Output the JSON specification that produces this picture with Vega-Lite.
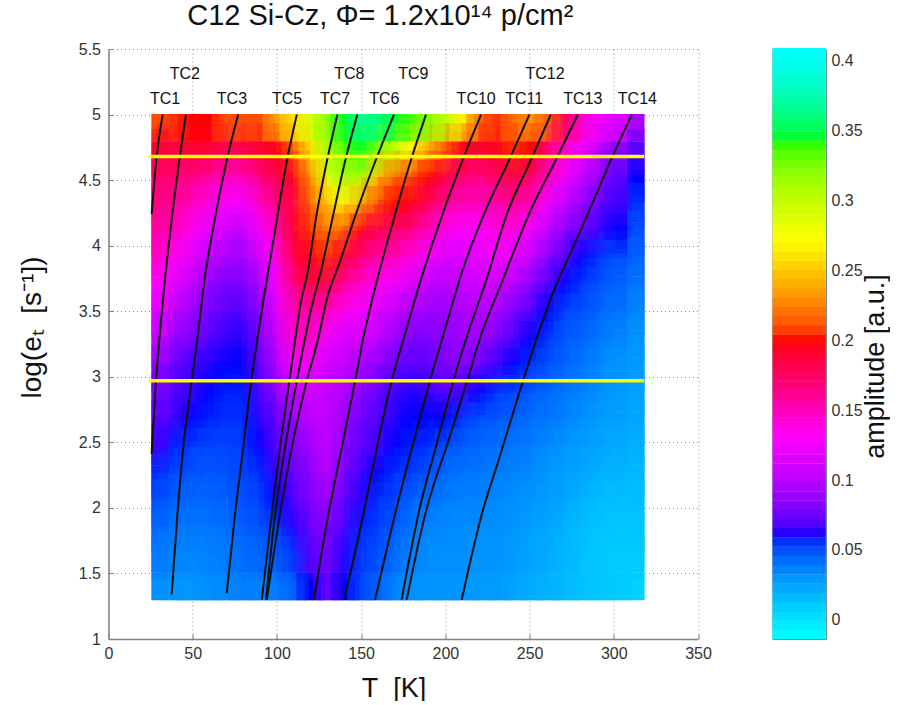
{"$schema":"https://vega.github.io/schema/vega-lite/v6.json","background":"white","padding":{"left":18.5,"top":2,"right":0,"bottom":0},"bounds":"flush","spacing":74,
"config":{"view":{"stroke":null},"font":"Liberation Sans","axis":{"labelFont":"Liberation Sans","titleFont":"Liberation Sans","titleFontWeight":"normal","labelColor":"#333333","titleColor":"#111111","labelFlush":false}},
"datasets":{"heat":[
{"T":30.6,"e":4.9,"a":0.21},{"T":40.7,"e":4.9,"a":0.205},{"T":50.8,"e":4.9,"a":0.2},{"T":60.9,"e":4.9,"a":0.2},{"T":71,"e":4.9,"a":0.21},{"T":81.1,"e":4.9,"a":0.21},{"T":91.1,"e":4.9,"a":0.21},{"T":101.2,"e":4.9,"a":0.235},{"T":111.3,"e":4.9,"a":0.26},{"T":121.4,"e":4.9,"a":0.29},{"T":131.5,"e":4.9,"a":0.32},{"T":141.6,"e":4.9,"a":0.345},{"T":151.7,"e":4.9,"a":0.365},{"T":161.8,"e":4.9,"a":0.36},{"T":171.9,"e":4.9,"a":0.345},{"T":181.9,"e":4.9,"a":0.335},{"T":192,"e":4.9,"a":0.32},{"T":202.1,"e":4.9,"a":0.3},{"T":212.2,"e":4.9,"a":0.265},{"T":222.3,"e":4.9,"a":0.215},{"T":232.4,"e":4.9,"a":0.205},{"T":242.5,"e":4.9,"a":0.22},{"T":252.6,"e":4.9,"a":0.23},{"T":262.7,"e":4.9,"a":0.215},{"T":272.8,"e":4.9,"a":0.18},{"T":282.8,"e":4.9,"a":0.145},{"T":292.9,"e":4.9,"a":0.125},{"T":303,"e":4.9,"a":0.115},{"T":313.1,"e":4.9,"a":0.095},
{"T":30.6,"e":4.69,"a":0.19},{"T":40.7,"e":4.69,"a":0.185},{"T":50.8,"e":4.69,"a":0.19},{"T":60.9,"e":4.69,"a":0.19},{"T":71,"e":4.69,"a":0.18},{"T":81.1,"e":4.69,"a":0.18},{"T":91.1,"e":4.69,"a":0.19},{"T":101.2,"e":4.69,"a":0.195},{"T":111.3,"e":4.69,"a":0.215},{"T":121.4,"e":4.69,"a":0.26},{"T":131.5,"e":4.69,"a":0.31},{"T":141.6,"e":4.69,"a":0.335},{"T":151.7,"e":4.69,"a":0.345},{"T":161.8,"e":4.69,"a":0.325},{"T":171.9,"e":4.69,"a":0.3},{"T":181.9,"e":4.69,"a":0.27},{"T":192,"e":4.69,"a":0.24},{"T":202.1,"e":4.69,"a":0.215},{"T":212.2,"e":4.69,"a":0.195},{"T":222.3,"e":4.69,"a":0.19},{"T":232.4,"e":4.69,"a":0.195},{"T":242.5,"e":4.69,"a":0.205},{"T":252.6,"e":4.69,"a":0.2},{"T":262.7,"e":4.69,"a":0.17},{"T":272.8,"e":4.69,"a":0.145},{"T":282.8,"e":4.69,"a":0.125},{"T":292.9,"e":4.69,"a":0.105},{"T":303,"e":4.69,"a":0.085},{"T":313.1,"e":4.69,"a":0.07},
{"T":30.6,"e":4.48,"a":0.17},{"T":40.7,"e":4.48,"a":0.17},{"T":50.8,"e":4.48,"a":0.165},{"T":60.9,"e":4.48,"a":0.16},{"T":71,"e":4.48,"a":0.15},{"T":81.1,"e":4.48,"a":0.15},{"T":91.1,"e":4.48,"a":0.165},{"T":101.2,"e":4.48,"a":0.18},{"T":111.3,"e":4.48,"a":0.195},{"T":121.4,"e":4.48,"a":0.23},{"T":131.5,"e":4.48,"a":0.285},{"T":141.6,"e":4.48,"a":0.31},{"T":151.7,"e":4.48,"a":0.305},{"T":161.8,"e":4.48,"a":0.25},{"T":171.9,"e":4.48,"a":0.22},{"T":181.9,"e":4.48,"a":0.21},{"T":192,"e":4.48,"a":0.2},{"T":202.1,"e":4.48,"a":0.185},{"T":212.2,"e":4.48,"a":0.17},{"T":222.3,"e":4.48,"a":0.165},{"T":232.4,"e":4.48,"a":0.175},{"T":242.5,"e":4.48,"a":0.185},{"T":252.6,"e":4.48,"a":0.175},{"T":262.7,"e":4.48,"a":0.15},{"T":272.8,"e":4.48,"a":0.125},{"T":282.8,"e":4.48,"a":0.105},{"T":292.9,"e":4.48,"a":0.09},{"T":303,"e":4.48,"a":0.07},{"T":313.1,"e":4.48,"a":0.06},
{"T":30.6,"e":4.28,"a":0.165},{"T":40.7,"e":4.28,"a":0.16},{"T":50.8,"e":4.28,"a":0.15},{"T":60.9,"e":4.28,"a":0.14},{"T":71,"e":4.28,"a":0.13},{"T":81.1,"e":4.28,"a":0.125},{"T":91.1,"e":4.28,"a":0.145},{"T":101.2,"e":4.28,"a":0.165},{"T":111.3,"e":4.28,"a":0.185},{"T":121.4,"e":4.28,"a":0.215},{"T":131.5,"e":4.28,"a":0.25},{"T":141.6,"e":4.28,"a":0.27},{"T":151.7,"e":4.28,"a":0.24},{"T":161.8,"e":4.28,"a":0.21},{"T":171.9,"e":4.28,"a":0.2},{"T":181.9,"e":4.28,"a":0.195},{"T":192,"e":4.28,"a":0.175},{"T":202.1,"e":4.28,"a":0.16},{"T":212.2,"e":4.28,"a":0.15},{"T":222.3,"e":4.28,"a":0.15},{"T":232.4,"e":4.28,"a":0.155},{"T":242.5,"e":4.28,"a":0.16},{"T":252.6,"e":4.28,"a":0.15},{"T":262.7,"e":4.28,"a":0.125},{"T":272.8,"e":4.28,"a":0.105},{"T":282.8,"e":4.28,"a":0.09},{"T":292.9,"e":4.28,"a":0.075},{"T":303,"e":4.28,"a":0.065},{"T":313.1,"e":4.28,"a":0.055},
{"T":30.6,"e":4.07,"a":0.155},{"T":40.7,"e":4.07,"a":0.15},{"T":50.8,"e":4.07,"a":0.135},{"T":60.9,"e":4.07,"a":0.12},{"T":71,"e":4.07,"a":0.11},{"T":81.1,"e":4.07,"a":0.105},{"T":91.1,"e":4.07,"a":0.125},{"T":101.2,"e":4.07,"a":0.15},{"T":111.3,"e":4.07,"a":0.19},{"T":121.4,"e":4.07,"a":0.205},{"T":131.5,"e":4.07,"a":0.225},{"T":141.6,"e":4.07,"a":0.215},{"T":151.7,"e":4.07,"a":0.195},{"T":161.8,"e":4.07,"a":0.18},{"T":171.9,"e":4.07,"a":0.175},{"T":181.9,"e":4.07,"a":0.165},{"T":192,"e":4.07,"a":0.15},{"T":202.1,"e":4.07,"a":0.135},{"T":212.2,"e":4.07,"a":0.13},{"T":222.3,"e":4.07,"a":0.13},{"T":232.4,"e":4.07,"a":0.14},{"T":242.5,"e":4.07,"a":0.14},{"T":252.6,"e":4.07,"a":0.125},{"T":262.7,"e":4.07,"a":0.105},{"T":272.8,"e":4.07,"a":0.085},{"T":282.8,"e":4.07,"a":0.075},{"T":292.9,"e":4.07,"a":0.065},{"T":303,"e":4.07,"a":0.06},{"T":313.1,"e":4.07,"a":0.05},
{"T":30.6,"e":3.87,"a":0.145},{"T":40.7,"e":3.87,"a":0.135},{"T":50.8,"e":3.87,"a":0.12},{"T":60.9,"e":3.87,"a":0.105},{"T":71,"e":3.87,"a":0.095},{"T":81.1,"e":3.87,"a":0.09},{"T":91.1,"e":3.87,"a":0.11},{"T":101.2,"e":3.87,"a":0.135},{"T":111.3,"e":3.87,"a":0.18},{"T":121.4,"e":3.87,"a":0.195},{"T":131.5,"e":3.87,"a":0.205},{"T":141.6,"e":3.87,"a":0.19},{"T":151.7,"e":3.87,"a":0.17},{"T":161.8,"e":3.87,"a":0.155},{"T":171.9,"e":3.87,"a":0.15},{"T":181.9,"e":3.87,"a":0.14},{"T":192,"e":3.87,"a":0.125},{"T":202.1,"e":3.87,"a":0.115},{"T":212.2,"e":3.87,"a":0.115},{"T":222.3,"e":3.87,"a":0.12},{"T":232.4,"e":3.87,"a":0.125},{"T":242.5,"e":3.87,"a":0.12},{"T":252.6,"e":3.87,"a":0.105},{"T":262.7,"e":3.87,"a":0.085},{"T":272.8,"e":3.87,"a":0.07},{"T":282.8,"e":3.87,"a":0.06},{"T":292.9,"e":3.87,"a":0.055},{"T":303,"e":3.87,"a":0.05},{"T":313.1,"e":3.87,"a":0.045},
{"T":30.6,"e":3.66,"a":0.13},{"T":40.7,"e":3.66,"a":0.12},{"T":50.8,"e":3.66,"a":0.105},{"T":60.9,"e":3.66,"a":0.09},{"T":71,"e":3.66,"a":0.08},{"T":81.1,"e":3.66,"a":0.08},{"T":91.1,"e":3.66,"a":0.095},{"T":101.2,"e":3.66,"a":0.125},{"T":111.3,"e":3.66,"a":0.165},{"T":121.4,"e":3.66,"a":0.185},{"T":131.5,"e":3.66,"a":0.18},{"T":141.6,"e":3.66,"a":0.16},{"T":151.7,"e":3.66,"a":0.145},{"T":161.8,"e":3.66,"a":0.135},{"T":171.9,"e":3.66,"a":0.125},{"T":181.9,"e":3.66,"a":0.115},{"T":192,"e":3.66,"a":0.105},{"T":202.1,"e":3.66,"a":0.1},{"T":212.2,"e":3.66,"a":0.105},{"T":222.3,"e":3.66,"a":0.11},{"T":232.4,"e":3.66,"a":0.11},{"T":242.5,"e":3.66,"a":0.1},{"T":252.6,"e":3.66,"a":0.085},{"T":262.7,"e":3.66,"a":0.07},{"T":272.8,"e":3.66,"a":0.06},{"T":282.8,"e":3.66,"a":0.055},{"T":292.9,"e":3.66,"a":0.05},{"T":303,"e":3.66,"a":0.045},{"T":313.1,"e":3.66,"a":0.04},
{"T":30.6,"e":3.46,"a":0.115},{"T":40.7,"e":3.46,"a":0.105},{"T":50.8,"e":3.46,"a":0.09},{"T":60.9,"e":3.46,"a":0.08},{"T":71,"e":3.46,"a":0.07},{"T":81.1,"e":3.46,"a":0.068},{"T":91.1,"e":3.46,"a":0.085},{"T":101.2,"e":3.46,"a":0.115},{"T":111.3,"e":3.46,"a":0.15},{"T":121.4,"e":3.46,"a":0.155},{"T":131.5,"e":3.46,"a":0.15},{"T":141.6,"e":3.46,"a":0.135},{"T":151.7,"e":3.46,"a":0.125},{"T":161.8,"e":3.46,"a":0.115},{"T":171.9,"e":3.46,"a":0.105},{"T":181.9,"e":3.46,"a":0.095},{"T":192,"e":3.46,"a":0.09},{"T":202.1,"e":3.46,"a":0.09},{"T":212.2,"e":3.46,"a":0.095},{"T":222.3,"e":3.46,"a":0.1},{"T":232.4,"e":3.46,"a":0.095},{"T":242.5,"e":3.46,"a":0.08},{"T":252.6,"e":3.46,"a":0.07},{"T":262.7,"e":3.46,"a":0.06},{"T":272.8,"e":3.46,"a":0.052},{"T":282.8,"e":3.46,"a":0.05},{"T":292.9,"e":3.46,"a":0.045},{"T":303,"e":3.46,"a":0.04},{"T":313.1,"e":3.46,"a":0.035},
{"T":30.6,"e":3.25,"a":0.105},{"T":40.7,"e":3.25,"a":0.09},{"T":50.8,"e":3.25,"a":0.08},{"T":60.9,"e":3.25,"a":0.07},{"T":71,"e":3.25,"a":0.065},{"T":81.1,"e":3.25,"a":0.062},{"T":91.1,"e":3.25,"a":0.078},{"T":101.2,"e":3.25,"a":0.105},{"T":111.3,"e":3.25,"a":0.145},{"T":121.4,"e":3.25,"a":0.15},{"T":131.5,"e":3.25,"a":0.125},{"T":141.6,"e":3.25,"a":0.115},{"T":151.7,"e":3.25,"a":0.11},{"T":161.8,"e":3.25,"a":0.105},{"T":171.9,"e":3.25,"a":0.09},{"T":181.9,"e":3.25,"a":0.08},{"T":192,"e":3.25,"a":0.08},{"T":202.1,"e":3.25,"a":0.085},{"T":212.2,"e":3.25,"a":0.09},{"T":222.3,"e":3.25,"a":0.09},{"T":232.4,"e":3.25,"a":0.08},{"T":242.5,"e":3.25,"a":0.068},{"T":252.6,"e":3.25,"a":0.06},{"T":262.7,"e":3.25,"a":0.055},{"T":272.8,"e":3.25,"a":0.048},{"T":282.8,"e":3.25,"a":0.045},{"T":292.9,"e":3.25,"a":0.04},{"T":303,"e":3.25,"a":0.035},{"T":313.1,"e":3.25,"a":0.03},
{"T":30.6,"e":3.04,"a":0.085},{"T":40.7,"e":3.04,"a":0.075},{"T":50.8,"e":3.04,"a":0.066},{"T":60.9,"e":3.04,"a":0.062},{"T":71,"e":3.04,"a":0.06},{"T":81.1,"e":3.04,"a":0.06},{"T":91.1,"e":3.04,"a":0.07},{"T":101.2,"e":3.04,"a":0.095},{"T":111.3,"e":3.04,"a":0.125},{"T":121.4,"e":3.04,"a":0.125},{"T":131.5,"e":3.04,"a":0.11},{"T":141.6,"e":3.04,"a":0.105},{"T":151.7,"e":3.04,"a":0.095},{"T":161.8,"e":3.04,"a":0.085},{"T":171.9,"e":3.04,"a":0.075},{"T":181.9,"e":3.04,"a":0.07},{"T":192,"e":3.04,"a":0.072},{"T":202.1,"e":3.04,"a":0.08},{"T":212.2,"e":3.04,"a":0.085},{"T":222.3,"e":3.04,"a":0.075},{"T":232.4,"e":3.04,"a":0.065},{"T":242.5,"e":3.04,"a":0.06},{"T":252.6,"e":3.04,"a":0.055},{"T":262.7,"e":3.04,"a":0.05},{"T":272.8,"e":3.04,"a":0.045},{"T":282.8,"e":3.04,"a":0.04},{"T":292.9,"e":3.04,"a":0.035},{"T":303,"e":3.04,"a":0.03},{"T":313.1,"e":3.04,"a":0.028},
{"T":30.6,"e":2.84,"a":0.078},{"T":40.7,"e":2.84,"a":0.07},{"T":50.8,"e":2.84,"a":0.064},{"T":60.9,"e":2.84,"a":0.06},{"T":71,"e":2.84,"a":0.058},{"T":81.1,"e":2.84,"a":0.058},{"T":91.1,"e":2.84,"a":0.068},{"T":101.2,"e":2.84,"a":0.084},{"T":111.3,"e":2.84,"a":0.105},{"T":121.4,"e":2.84,"a":0.11},{"T":131.5,"e":2.84,"a":0.105},{"T":141.6,"e":2.84,"a":0.098},{"T":151.7,"e":2.84,"a":0.085},{"T":161.8,"e":2.84,"a":0.074},{"T":171.9,"e":2.84,"a":0.066},{"T":181.9,"e":2.84,"a":0.062},{"T":192,"e":2.84,"a":0.065},{"T":202.1,"e":2.84,"a":0.07},{"T":212.2,"e":2.84,"a":0.065},{"T":222.3,"e":2.84,"a":0.06},{"T":232.4,"e":2.84,"a":0.055},{"T":242.5,"e":2.84,"a":0.052},{"T":252.6,"e":2.84,"a":0.048},{"T":262.7,"e":2.84,"a":0.044},{"T":272.8,"e":2.84,"a":0.04},{"T":282.8,"e":2.84,"a":0.036},{"T":292.9,"e":2.84,"a":0.032},{"T":303,"e":2.84,"a":0.028},{"T":313.1,"e":2.84,"a":0.025},
{"T":30.6,"e":2.63,"a":0.07},{"T":40.7,"e":2.63,"a":0.066},{"T":50.8,"e":2.63,"a":0.06},{"T":60.9,"e":2.63,"a":0.058},{"T":71,"e":2.63,"a":0.056},{"T":81.1,"e":2.63,"a":0.056},{"T":91.1,"e":2.63,"a":0.062},{"T":101.2,"e":2.63,"a":0.074},{"T":111.3,"e":2.63,"a":0.09},{"T":121.4,"e":2.63,"a":0.1},{"T":131.5,"e":2.63,"a":0.105},{"T":141.6,"e":2.63,"a":0.09},{"T":151.7,"e":2.63,"a":0.076},{"T":161.8,"e":2.63,"a":0.068},{"T":171.9,"e":2.63,"a":0.062},{"T":181.9,"e":2.63,"a":0.06},{"T":192,"e":2.63,"a":0.06},{"T":202.1,"e":2.63,"a":0.06},{"T":212.2,"e":2.63,"a":0.055},{"T":222.3,"e":2.63,"a":0.05},{"T":232.4,"e":2.63,"a":0.048},{"T":242.5,"e":2.63,"a":0.046},{"T":252.6,"e":2.63,"a":0.042},{"T":262.7,"e":2.63,"a":0.04},{"T":272.8,"e":2.63,"a":0.036},{"T":282.8,"e":2.63,"a":0.032},{"T":292.9,"e":2.63,"a":0.028},{"T":303,"e":2.63,"a":0.026},{"T":313.1,"e":2.63,"a":0.024},
{"T":30.6,"e":2.43,"a":0.064},{"T":40.7,"e":2.43,"a":0.058},{"T":50.8,"e":2.43,"a":0.054},{"T":60.9,"e":2.43,"a":0.052},{"T":71,"e":2.43,"a":0.052},{"T":81.1,"e":2.43,"a":0.054},{"T":91.1,"e":2.43,"a":0.06},{"T":101.2,"e":2.43,"a":0.07},{"T":111.3,"e":2.43,"a":0.08},{"T":121.4,"e":2.43,"a":0.09},{"T":131.5,"e":2.43,"a":0.105},{"T":141.6,"e":2.43,"a":0.085},{"T":151.7,"e":2.43,"a":0.072},{"T":161.8,"e":2.43,"a":0.066},{"T":171.9,"e":2.43,"a":0.06},{"T":181.9,"e":2.43,"a":0.058},{"T":192,"e":2.43,"a":0.056},{"T":202.1,"e":2.43,"a":0.05},{"T":212.2,"e":2.43,"a":0.046},{"T":222.3,"e":2.43,"a":0.044},{"T":232.4,"e":2.43,"a":0.042},{"T":242.5,"e":2.43,"a":0.04},{"T":252.6,"e":2.43,"a":0.038},{"T":262.7,"e":2.43,"a":0.034},{"T":272.8,"e":2.43,"a":0.03},{"T":282.8,"e":2.43,"a":0.027},{"T":292.9,"e":2.43,"a":0.025},{"T":303,"e":2.43,"a":0.022},{"T":313.1,"e":2.43,"a":0.02},
{"T":30.6,"e":2.22,"a":0.056},{"T":40.7,"e":2.22,"a":0.052},{"T":50.8,"e":2.22,"a":0.05},{"T":60.9,"e":2.22,"a":0.048},{"T":71,"e":2.22,"a":0.05},{"T":81.1,"e":2.22,"a":0.052},{"T":91.1,"e":2.22,"a":0.056},{"T":101.2,"e":2.22,"a":0.064},{"T":111.3,"e":2.22,"a":0.074},{"T":121.4,"e":2.22,"a":0.085},{"T":131.5,"e":2.22,"a":0.1},{"T":141.6,"e":2.22,"a":0.08},{"T":151.7,"e":2.22,"a":0.066},{"T":161.8,"e":2.22,"a":0.06},{"T":171.9,"e":2.22,"a":0.056},{"T":181.9,"e":2.22,"a":0.054},{"T":192,"e":2.22,"a":0.05},{"T":202.1,"e":2.22,"a":0.044},{"T":212.2,"e":2.22,"a":0.04},{"T":222.3,"e":2.22,"a":0.04},{"T":232.4,"e":2.22,"a":0.038},{"T":242.5,"e":2.22,"a":0.036},{"T":252.6,"e":2.22,"a":0.034},{"T":262.7,"e":2.22,"a":0.03},{"T":272.8,"e":2.22,"a":0.027},{"T":282.8,"e":2.22,"a":0.024},{"T":292.9,"e":2.22,"a":0.021},{"T":303,"e":2.22,"a":0.019},{"T":313.1,"e":2.22,"a":0.018},
{"T":30.6,"e":2.02,"a":0.05},{"T":40.7,"e":2.02,"a":0.046},{"T":50.8,"e":2.02,"a":0.044},{"T":60.9,"e":2.02,"a":0.044},{"T":71,"e":2.02,"a":0.046},{"T":81.1,"e":2.02,"a":0.05},{"T":91.1,"e":2.02,"a":0.052},{"T":101.2,"e":2.02,"a":0.06},{"T":111.3,"e":2.02,"a":0.068},{"T":121.4,"e":2.02,"a":0.08},{"T":131.5,"e":2.02,"a":0.09},{"T":141.6,"e":2.02,"a":0.074},{"T":151.7,"e":2.02,"a":0.062},{"T":161.8,"e":2.02,"a":0.056},{"T":171.9,"e":2.02,"a":0.052},{"T":181.9,"e":2.02,"a":0.046},{"T":192,"e":2.02,"a":0.042},{"T":202.1,"e":2.02,"a":0.038},{"T":212.2,"e":2.02,"a":0.036},{"T":222.3,"e":2.02,"a":0.036},{"T":232.4,"e":2.02,"a":0.034},{"T":242.5,"e":2.02,"a":0.032},{"T":252.6,"e":2.02,"a":0.03},{"T":262.7,"e":2.02,"a":0.027},{"T":272.8,"e":2.02,"a":0.024},{"T":282.8,"e":2.02,"a":0.02},{"T":292.9,"e":2.02,"a":0.016},{"T":303,"e":2.02,"a":0.014},{"T":313.1,"e":2.02,"a":0.015},
{"T":30.6,"e":1.81,"a":0.044},{"T":40.7,"e":1.81,"a":0.04},{"T":50.8,"e":1.81,"a":0.04},{"T":60.9,"e":1.81,"a":0.04},{"T":71,"e":1.81,"a":0.042},{"T":81.1,"e":1.81,"a":0.046},{"T":91.1,"e":1.81,"a":0.05},{"T":101.2,"e":1.81,"a":0.054},{"T":111.3,"e":1.81,"a":0.062},{"T":121.4,"e":1.81,"a":0.075},{"T":131.5,"e":1.81,"a":0.082},{"T":141.6,"e":1.81,"a":0.068},{"T":151.7,"e":1.81,"a":0.058},{"T":161.8,"e":1.81,"a":0.054},{"T":171.9,"e":1.81,"a":0.048},{"T":181.9,"e":1.81,"a":0.04},{"T":192,"e":1.81,"a":0.036},{"T":202.1,"e":1.81,"a":0.034},{"T":212.2,"e":1.81,"a":0.033},{"T":222.3,"e":1.81,"a":0.033},{"T":232.4,"e":1.81,"a":0.032},{"T":242.5,"e":1.81,"a":0.03},{"T":252.6,"e":1.81,"a":0.027},{"T":262.7,"e":1.81,"a":0.024},{"T":272.8,"e":1.81,"a":0.02},{"T":282.8,"e":1.81,"a":0.016},{"T":292.9,"e":1.81,"a":0.012},{"T":303,"e":1.81,"a":0.012},{"T":313.1,"e":1.81,"a":0.012},
{"T":30.6,"e":1.61,"a":0.038},{"T":40.7,"e":1.61,"a":0.036},{"T":50.8,"e":1.61,"a":0.034},{"T":60.9,"e":1.61,"a":0.036},{"T":71,"e":1.61,"a":0.038},{"T":81.1,"e":1.61,"a":0.042},{"T":91.1,"e":1.61,"a":0.044},{"T":101.2,"e":1.61,"a":0.046},{"T":111.3,"e":1.61,"a":0.054},{"T":121.4,"e":1.61,"a":0.068},{"T":131.5,"e":1.61,"a":0.078},{"T":141.6,"e":1.61,"a":0.062},{"T":151.7,"e":1.61,"a":0.054},{"T":161.8,"e":1.61,"a":0.05},{"T":171.9,"e":1.61,"a":0.042},{"T":181.9,"e":1.61,"a":0.036},{"T":192,"e":1.61,"a":0.032},{"T":202.1,"e":1.61,"a":0.032},{"T":212.2,"e":1.61,"a":0.032},{"T":222.3,"e":1.61,"a":0.03},{"T":232.4,"e":1.61,"a":0.03},{"T":242.5,"e":1.61,"a":0.028},{"T":252.6,"e":1.61,"a":0.025},{"T":262.7,"e":1.61,"a":0.022},{"T":272.8,"e":1.61,"a":0.018},{"T":282.8,"e":1.61,"a":0.014},{"T":292.9,"e":1.61,"a":0.011},{"T":303,"e":1.61,"a":0.01},{"T":313.1,"e":1.61,"a":0.01},
{"T":30.6,"e":1.4,"a":0.032},{"T":40.7,"e":1.4,"a":0.03},{"T":50.8,"e":1.4,"a":0.03},{"T":60.9,"e":1.4,"a":0.032},{"T":71,"e":1.4,"a":0.034},{"T":81.1,"e":1.4,"a":0.037},{"T":91.1,"e":1.4,"a":0.037},{"T":101.2,"e":1.4,"a":0.038},{"T":111.3,"e":1.4,"a":0.046},{"T":121.4,"e":1.4,"a":0.06},{"T":131.5,"e":1.4,"a":0.075},{"T":141.6,"e":1.4,"a":0.06},{"T":151.7,"e":1.4,"a":0.052},{"T":161.8,"e":1.4,"a":0.046},{"T":171.9,"e":1.4,"a":0.036},{"T":181.9,"e":1.4,"a":0.032},{"T":192,"e":1.4,"a":0.03},{"T":202.1,"e":1.4,"a":0.03},{"T":212.2,"e":1.4,"a":0.03},{"T":222.3,"e":1.4,"a":0.028},{"T":232.4,"e":1.4,"a":0.028},{"T":242.5,"e":1.4,"a":0.025},{"T":252.6,"e":1.4,"a":0.022},{"T":262.7,"e":1.4,"a":0.02},{"T":272.8,"e":1.4,"a":0.017},{"T":282.8,"e":1.4,"a":0.014},{"T":292.9,"e":1.4,"a":0.012},{"T":303,"e":1.4,"a":0.01},{"T":313.1,"e":1.4,"a":0.008}
],
"curves":[
{"c":"A","i":1,"T":32.2,"e":5},{"c":"A","i":2,"T":28.6,"e":4.68},{"c":"A","i":3,"T":25.6,"e":4.24},
{"c":"B","i":1,"T":46,"e":5},{"c":"B","i":2,"T":41.5,"e":4.6},{"c":"B","i":3,"T":35.5,"e":3.98},{"c":"B","i":4,"T":30.6,"e":3.35},{"c":"B","i":5,"T":28.2,"e":2.97},{"c":"B","i":6,"T":25.6,"e":2.41},
{"c":"C","i":1,"T":77,"e":5},{"c":"C","i":2,"T":70,"e":4.64},{"c":"C","i":3,"T":62.2,"e":4.14},{"c":"C","i":4,"T":56.9,"e":3.73},{"c":"C","i":5,"T":52.6,"e":3.27},{"c":"C","i":6,"T":49.4,"e":2.97},{"c":"C","i":7,"T":44.4,"e":2.46},{"c":"C","i":8,"T":40.9,"e":1.95},{"c":"C","i":9,"T":37.5,"e":1.34},
{"c":"D","i":1,"T":111.8,"e":5},{"c":"D","i":2,"T":105.8,"e":4.64},{"c":"D","i":3,"T":97.9,"e":4.04},{"c":"D","i":4,"T":91.9,"e":3.58},{"c":"D","i":5,"T":88.3,"e":3.28},{"c":"D","i":6,"T":84.8,"e":2.97},{"c":"D","i":7,"T":80,"e":2.46},{"c":"D","i":8,"T":75.1,"e":1.95},{"c":"D","i":9,"T":70.2,"e":1.35},
{"c":"E","i":1,"T":135.9,"e":5},{"c":"E","i":2,"T":129.6,"e":4.64},{"c":"E","i":3,"T":123.6,"e":4.24},{"c":"E","i":4,"T":118.7,"e":3.83},{"c":"E","i":5,"T":113.7,"e":3.53},{"c":"E","i":6,"T":110.8,"e":3.28},{"c":"E","i":7,"T":107.4,"e":2.97},{"c":"E","i":8,"T":101.8,"e":2.46},{"c":"E","i":9,"T":96.9,"e":1.95},{"c":"E","i":10,"T":91,"e":1.3},
{"c":"F","i":1,"T":147.7,"e":5},{"c":"F","i":2,"T":140.4,"e":4.64},{"c":"F","i":3,"T":133.5,"e":4.24},{"c":"F","i":4,"T":126.6,"e":3.83},{"c":"F","i":5,"T":120,"e":3.5},{"c":"F","i":6,"T":116,"e":3.25},{"c":"F","i":7,"T":111.8,"e":2.97},{"c":"F","i":8,"T":104.8,"e":2.46},{"c":"F","i":9,"T":98.9,"e":1.95},{"c":"F","i":10,"T":93.5,"e":1.3},
{"c":"G","i":1,"T":169.5,"e":5},{"c":"G","i":2,"T":158.3,"e":4.64},{"c":"G","i":3,"T":147.4,"e":4.26},{"c":"G","i":4,"T":137.5,"e":3.88},{"c":"G","i":5,"T":129.8,"e":3.6},{"c":"G","i":6,"T":124.3,"e":3.28},{"c":"G","i":7,"T":117.7,"e":2.97},{"c":"G","i":8,"T":108.8,"e":2.46},{"c":"G","i":9,"T":101.8,"e":1.95},{"c":"G","i":10,"T":94,"e":1.3},
{"c":"H","i":1,"T":188.5,"e":5},{"c":"H","i":2,"T":180,"e":4.67},{"c":"H","i":3,"T":169.1,"e":4.19},{"c":"H","i":4,"T":159.3,"e":3.73},{"c":"H","i":5,"T":151,"e":3.28},{"c":"H","i":6,"T":146.4,"e":2.97},{"c":"H","i":7,"T":138.5,"e":2.46},{"c":"H","i":8,"T":130.5,"e":1.95},{"c":"H","i":9,"T":122,"e":1.3},
{"c":"I","i":1,"T":221.2,"e":5},{"c":"I","i":2,"T":210.7,"e":4.67},{"c":"I","i":3,"T":200.8,"e":4.33},{"c":"I","i":4,"T":186.9,"e":3.8},{"c":"I","i":5,"T":175,"e":3.28},{"c":"I","i":6,"T":168.1,"e":2.97},{"c":"I","i":7,"T":159.3,"e":2.46},{"c":"I","i":8,"T":151.3,"e":1.95},{"c":"I","i":9,"T":140,"e":1.3},
{"c":"J","i":1,"T":249.9,"e":5},{"c":"J","i":2,"T":237.4,"e":4.64},{"c":"J","i":3,"T":224.6,"e":4.29},{"c":"J","i":4,"T":210.7,"e":3.83},{"c":"J","i":5,"T":197.9,"e":3.28},{"c":"J","i":6,"T":191.5,"e":3},{"c":"J","i":7,"T":185,"e":2.69},{"c":"J","i":8,"T":170.1,"e":1.95},{"c":"J","i":9,"T":158.3,"e":1.3},
{"c":"K","i":1,"T":262.6,"e":5},{"c":"K","i":2,"T":250.3,"e":4.64},{"c":"K","i":3,"T":236.5,"e":4.24},{"c":"K","i":4,"T":224.6,"e":3.75},{"c":"K","i":5,"T":212.1,"e":3.28},{"c":"K","i":6,"T":204.8,"e":2.97},{"c":"K","i":7,"T":194.9,"e":2.49},{"c":"K","i":8,"T":185,"e":2.01},{"c":"K","i":9,"T":174,"e":1.3},
{"c":"L","i":1,"T":278.6,"e":5},{"c":"L","i":2,"T":265.1,"e":4.64},{"c":"L","i":3,"T":250.3,"e":4.26},{"c":"L","i":4,"T":233.5,"e":3.72},{"c":"L","i":5,"T":220.2,"e":3.28},{"c":"L","i":6,"T":213.7,"e":3},{"c":"L","i":7,"T":202.8,"e":2.55},{"c":"L","i":8,"T":188,"e":1.95},{"c":"L","i":9,"T":177,"e":1.3},
{"c":"M","i":1,"T":310.7,"e":5},{"c":"M","i":2,"T":297.8,"e":4.64},{"c":"M","i":3,"T":286.2,"e":4.29},{"c":"M","i":4,"T":275.5,"e":3.98},{"c":"M","i":5,"T":264.2,"e":3.65},{"c":"M","i":6,"T":253.9,"e":3.28},{"c":"M","i":7,"T":245.4,"e":2.94},{"c":"M","i":8,"T":231.5,"e":2.36},{"c":"M","i":9,"T":221.6,"e":1.95},{"c":"M","i":10,"T":209.7,"e":1.3}
],
"labels":[{"t":"TC1","T":33.6,"e":5.12},{"t":"TC2","T":45.3,"e":5.31},{"t":"TC3","T":73.3,"e":5.12},{"t":"TC5","T":106,"e":5.12},{"t":"TC7","T":134.5,"e":5.12},{"t":"TC8","T":143,"e":5.31},{"t":"TC6","T":163.8,"e":5.12},{"t":"TC9","T":181,"e":5.31},{"t":"TC10","T":218.3,"e":5.12},{"t":"TC11","T":246.8,"e":5.12},{"t":"TC12","T":259.2,"e":5.31},{"t":"TC13","T":281.6,"e":5.12},{"t":"TC14","T":314,"e":5.12}],
"yellow":[{"e":4.68,"T1":24,"T2":318},{"e":2.97,"T1":24,"T2":318}],
"bar":[{"c":-0.0103},{"c":-0.0037},{"c":0.0029},{"c":0.0095},{"c":0.0161},{"c":0.0227},{"c":0.0293},{"c":0.0359},{"c":0.0425},{"c":0.0491},{"c":0.0557},{"c":0.0623},{"c":0.0689},{"c":0.0754},{"c":0.082},{"c":0.0886},{"c":0.0952},{"c":0.1018},{"c":0.1084},{"c":0.115},{"c":0.1216},{"c":0.1282},{"c":0.1348},{"c":0.1414},{"c":0.148},{"c":0.1546},{"c":0.1612},{"c":0.1678},{"c":0.1744},{"c":0.181},{"c":0.1876},{"c":0.1941},{"c":0.2007},{"c":0.2073},{"c":0.2139},{"c":0.2205},{"c":0.2271},{"c":0.2337},{"c":0.2403},{"c":0.2469},{"c":0.2535},{"c":0.2601},{"c":0.2667},{"c":0.2733},{"c":0.2799},{"c":0.2865},{"c":0.2931},{"c":0.2997},{"c":0.3063},{"c":0.3128},{"c":0.3194},{"c":0.326},{"c":0.3326},{"c":0.3392},{"c":0.3458},{"c":0.3524},{"c":0.359},{"c":0.3656},{"c":0.3722},{"c":0.3788},{"c":0.3854},{"c":0.392},{"c":0.3986},{"c":0.4052}]
},
"hconcat":[
{"width":589.5,"height":590,
"title":{"text":"C12 Si-Cz, Φ= 1.2x10¹⁴ p/cm²","fontSize":29,"fontWeight":"normal","font":"Liberation Sans","anchor":"middle","dx":-23,"offset":10,"color":"#111111"},
"layer":[
{"data":{"name":"heat"},"mark":{"type":"rect","width":17.4,"height":27.4},
"encoding":{
"x":{"field":"T","type":"quantitative","scale":{"domain":[0,350],"nice":false,"zero":false},
"axis":{"values":[0,50,100,150,200,250,300,350],"grid":true,"gridDash":[1,3],"gridColor":"#888888","domainColor":"#808080","domainWidth":1.5,"tickColor":"#808080","tickSize":-5,"labelFontSize":16,"labelPadding":11,"labelOverlap":false,"title":"T\u00a0\u00a0[K]","titleFontSize":27,"titleX":285,"titleY":36}},
"y":{"field":"e","type":"quantitative","scale":{"domain":[1,5.5],"nice":false,"zero":false},
"axis":{"values":[1,1.5,2,2.5,3,3.5,4,4.5,5,5.5],"format":".1~f","grid":true,"gridDash":[1,3],"gridColor":"#888888","domainColor":"#808080","domainWidth":1.5,"tickColor":"#808080","tickSize":-5,"labelFontSize":16,"labelPadding":13,"labelOverlap":false,"title":"log(eₜ\u00a0\u00a0[s⁻¹])","titleFontSize":28,"titleX":-62,"titleY":278}},
"color":{"field":"a","type":"quantitative","legend":null,"scale":{"domain":[-0.012,0.06,0.131,0.2,0.271,0.342,0.41],"range":["#00ffff","#0000ff","#ff00ff","#ff0000","#ffff00","#00ff00","#00ffff"]}}}},
{"data":{"name":"heat"},"transform":[{"filter":"datum.T>31 && datum.T<313 && datum.e>1.5 && datum.e<4.8"}],"mark":{"type":"rect","width":34,"height":54,"opacity":0.35,"xOffset":-3,"yOffset":-5},
"encoding":{"x":{"field":"T","type":"quantitative"},"y":{"field":"e","type":"quantitative"},"color":{"field":"a","type":"quantitative","legend":null}}},
{"data":{"name":"heat"},"transform":[{"filter":"datum.T>31 && datum.T<313 && datum.e>1.5 && datum.e<4.8"}],"mark":{"type":"rect","width":25,"height":40,"opacity":0.4,"xOffset":-2,"yOffset":-3},
"encoding":{"x":{"field":"T","type":"quantitative"},"y":{"field":"e","type":"quantitative"},"color":{"field":"a","type":"quantitative","legend":null}}},
{"data":{"name":"heat"},"transform":[{"filter":"(datum.e>4.8 || datum.e<1.5) && datum.T>31 && datum.T<313"}],"mark":{"type":"rect","width":29,"height":27.4,"opacity":0.5,"xOffset":-2},
"encoding":{"x":{"field":"T","type":"quantitative"},"y":{"field":"e","type":"quantitative"},"color":{"field":"a","type":"quantitative","legend":null}}},
{"data":{"name":"heat"},"transform":[{"filter":"(datum.T<31 || datum.T>313) && datum.e>1.5 && datum.e<4.8"}],"mark":{"type":"rect","width":17.4,"height":46,"opacity":0.5,"yOffset":-3},
"encoding":{"x":{"field":"T","type":"quantitative"},"y":{"field":"e","type":"quantitative"},"color":{"field":"a","type":"quantitative","legend":null}}},
{"data":{"name":"curves"},"mark":{"type":"line","color":"#111111","strokeWidth":2,"interpolate":"monotone"},
"encoding":{"x":{"field":"T","type":"quantitative"},"y":{"field":"e","type":"quantitative"},"detail":{"field":"c"},"order":{"field":"i","type":"quantitative"}}},
{"data":{"name":"yellow"},"mark":{"type":"rule","color":"#ffff00","strokeWidth":3.5},
"encoding":{"x":{"field":"T1","type":"quantitative"},"x2":{"field":"T2"},"y":{"field":"e","type":"quantitative"}}},
{"data":{"name":"labels"},"mark":{"type":"text","fontSize":16,"font":"Liberation Sans","color":"#111111"},
"encoding":{"x":{"field":"T","type":"quantitative"},"y":{"field":"e","type":"quantitative"},"text":{"field":"t"}}}
]},
{"width":53.4,"height":590,"view":{"stroke":"#5f8080"},"data":{"name":"bar"},"mark":{"type":"rect","height":9.6},
"encoding":{
"y":{"field":"c","type":"quantitative","scale":{"domain":[-0.0136,0.408],"nice":false,"zero":false},
"axis":{"orient":"right","values":[0,0.05,0.1,0.15,0.2,0.25,0.3,0.35,0.4],"format":".2~f","grid":false,"domain":false,"tickColor":"#606060","tickSize":-5,"labelFontSize":16,"labelPadding":10,"labelColor":"#333333","title":"amplitude [a.u.]","titleFontSize":27,"titleAngle":270,"titleX":64,"titleY":317}},
"color":{"field":"c","type":"quantitative","legend":null,"scale":{"domain":[-0.012,0.06,0.131,0.2,0.271,0.342,0.41],"range":["#00ffff","#0000ff","#ff00ff","#ff0000","#ffff00","#00ff00","#00ffff"]}}}}
]}
